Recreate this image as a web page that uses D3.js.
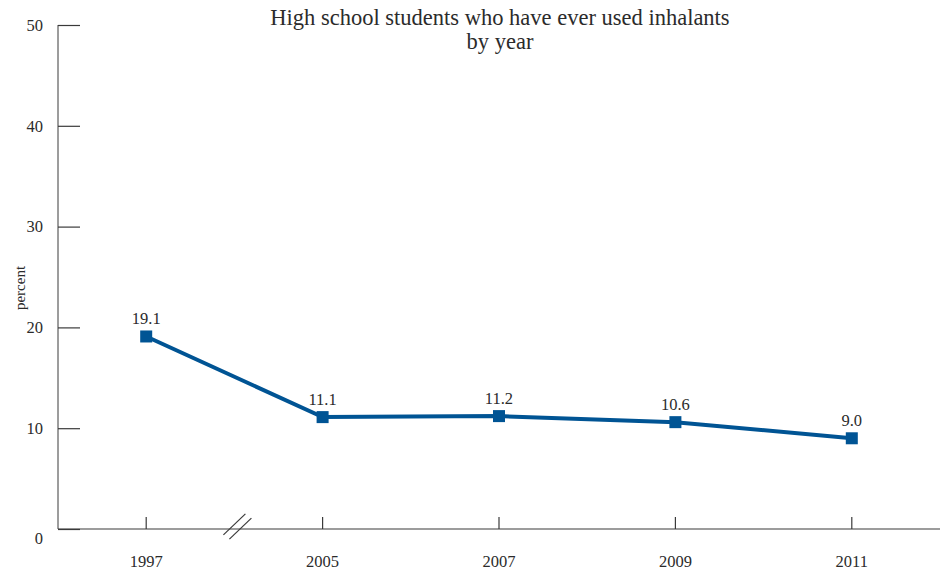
<!DOCTYPE html>
<html><head><meta charset="utf-8">
<script src="https://cdn.jsdelivr.net/npm/d3@7"></script>
<style>body{margin:0;background:#fff}svg{display:block}text{font-family:"Liberation Serif","DejaVu Serif",serif;fill:#2b2b2b}</style>
</head><body>
<script>
const years = ["1997","2005","2007","2009","2011"];
const values = [19.1, 11.1, 11.2, 10.6, 9.0];
const valueLabels = ["19.1","11.1","11.2","10.6","9.0"];
const yTicks = [0,10,20,30,40,50];
const titleLines = ["High school students who have ever used inhalants","by year"];
const yTitle = "percent";

const W=948,H=573;
const m={left:58,right:8,top:25,bottom:44};
const svg=d3.select("body").append("svg").attr("width",W).attr("height",H);
const x=d3.scaleBand().domain(years).range([m.left,W-m.right]).paddingInner(0).paddingOuter(0);
const y=d3.scaleLinear().domain([0,50]).range([H-m.bottom,m.top]);
const cx=d=>x(d)+x.bandwidth()/2;
const axisColor="#3a3a3a";
const fs=16.5;

// y axis
const ya=svg.append("g").attr("transform",`translate(${m.left},0)`)
  .call(d3.axisRight(y).tickValues(yTicks).tickSize(22).tickFormat(""));
ya.select(".domain").attr("stroke",axisColor).attr("d",`M0,${y(50)}V${y(0)}`);
ya.selectAll(".tick line").attr("stroke",axisColor).attr("stroke-width",1.2);
svg.append("g").selectAll("text").data(yTicks).join("text")
  .attr("x",43).attr("y",d=>y(d)+(d===0?11:2)).attr("text-anchor","end")
  .attr("dominant-baseline","middle").attr("font-size",fs).text(d=>d);

// x axis
const xa=svg.append("g").attr("transform",`translate(0,${y(0)})`)
  .call(d3.axisTop(x).tickSize(12).tickFormat(""));
xa.select(".domain").attr("stroke",axisColor).attr("stroke-width",1.2).attr("d",`M${m.left},0H${W-m.right}`);
xa.selectAll(".tick line").attr("stroke",axisColor).attr("stroke-width",1.2);
svg.append("g").selectAll("text").data(years).join("text")
  .attr("x",d=>cx(d)).attr("y",y(0)+34).attr("text-anchor","middle")
  .attr("dominant-baseline","middle").attr("font-size",fs).text(d=>d);

// axis break marks
const bx=(cx(years[0])+cx(years[1]))/2+3, by=y(0);
[-3,3].forEach(o=>{
  svg.append("line").attr("x1",bx-11+o).attr("y1",by+8+o*0.7).attr("x2",bx+11+o).attr("y2",by-13+o*0.7)
    .attr("stroke",axisColor).attr("stroke-width",1.2);
});

// y title
svg.append("text").attr("transform",`translate(22,${288}) rotate(-90)`)
  .attr("text-anchor","middle").attr("dominant-baseline","middle").attr("font-size",15).text(yTitle);

// title
svg.append("g").selectAll("text").data(titleLines).join("text")
  .attr("x",500).attr("y",(d,i)=>20+i*24).attr("text-anchor","middle")
  .attr("dominant-baseline","middle").attr("font-size",22.5).text(d=>d);

// line
const color="#005494";
const pts=years.map((d,i)=>({x:cx(d),y:y(values[i]),v:valueLabels[i]}));
svg.append("path").datum(pts).attr("fill","none").attr("stroke",color).attr("stroke-width",4)
  .attr("d",d3.line().x(d=>d.x).y(d=>d.y));
svg.append("g").selectAll("rect").data(pts).join("rect")
  .attr("x",d=>d.x-6).attr("y",d=>d.y-6).attr("width",12).attr("height",12).attr("fill",color);
svg.append("g").selectAll("text").data(pts).join("text")
  .attr("x",d=>d.x).attr("y",d=>d.y-16).attr("text-anchor","middle")
  .attr("dominant-baseline","middle").attr("font-size",fs).text(d=>d.v);
</script>
</body></html>
